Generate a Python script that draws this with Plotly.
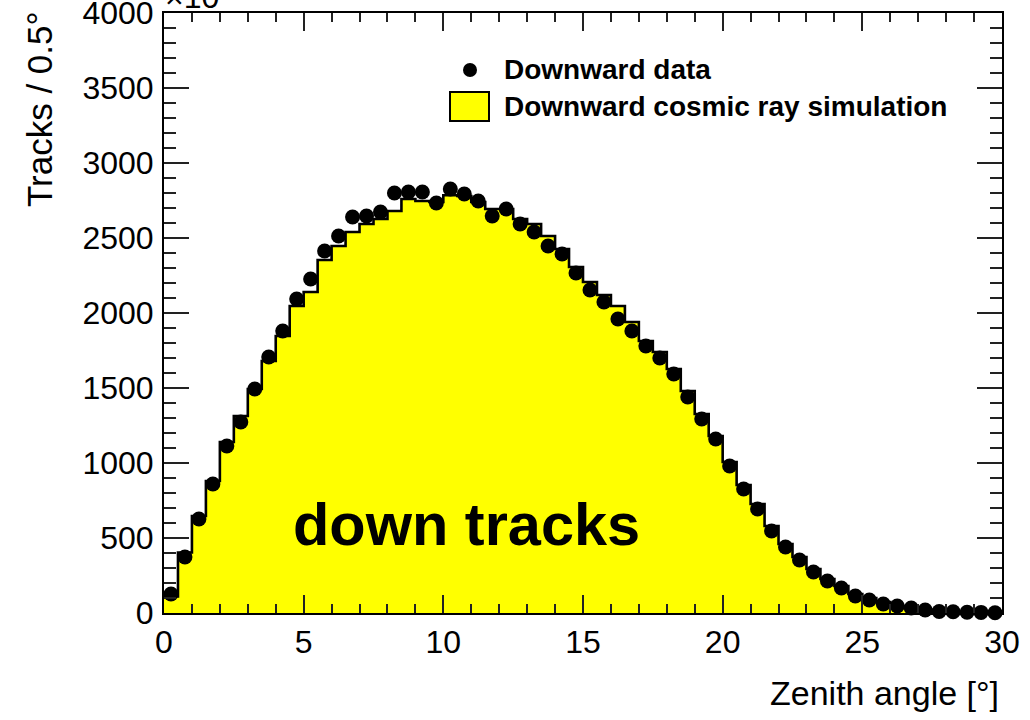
import plotly.graph_objects as go

# ---- data ----
bin_width = 0.5
n_bins = 60
bin_edges = [i * bin_width for i in range(n_bins + 1)]
bin_centers = [(bin_edges[i] + bin_edges[i + 1]) / 2 for i in range(n_bins)]

data_counts = [127, 373, 627, 860, 1113, 1273, 1493, 1707, 1880, 2093,
               2227, 2413, 2513, 2640, 2647, 2673, 2800, 2807, 2807, 2733,
               2827, 2793, 2747, 2647, 2693, 2593, 2540, 2447, 2393, 2267,
               2153, 2073, 1960, 1880, 1780, 1700, 1593, 1440, 1293, 1160,
               980, 827, 693, 547, 440, 353, 273, 213, 167, 113,
               87, 60, 47, 33, 20, 10, 8, 5, 4, 2]

mc_counts = [110, 403, 647, 880, 1140, 1313, 1493, 1680, 1847, 2047,
             2140, 2353, 2447, 2540, 2593, 2627, 2680, 2760, 2747, 2740,
             2785, 2780, 2740, 2693, 2693, 2627, 2593, 2513, 2427, 2307,
             2207, 2120, 2047, 1940, 1813, 1740, 1627, 1480, 1327, 1180,
             1007, 853, 727, 580, 460, 373, 293, 227, 180, 127,
             100, 73, 47, 33, 22, 15, 10, 7, 5, 3]

y_ticks = [0, 500, 1000, 1500, 2000, 2500, 3000, 3500, 4000]
x_ticks = [0, 5, 10, 15, 20, 25, 30]

legend_labels = ["Downward data", "Downward cosmic ray simulation"]
x_title = "Zenith angle [°]"
y_title = "Tracks / 0.5°"
label_text = "down tracks"

FONT = "Liberation Sans, Arial, Helvetica, sans-serif"

fig = go.Figure()

# simulation histogram (step outline, filled)
fig.add_trace(go.Scatter(
    x=bin_edges,
    y=mc_counts + [mc_counts[-1]],
    mode="lines",
    line=dict(shape="hv", color="black", width=2.6),
    fill="tozeroy",
    fillcolor="#ffff00",
    showlegend=False,
    hoverinfo="skip",
))

# data points
fig.add_trace(go.Scatter(
    x=bin_centers,
    y=data_counts,
    mode="markers",
    marker=dict(color="black", size=15, line=dict(width=0)),
    cliponaxis=False,
    showlegend=False,
))

# plot-area geometry (px) for paper-coordinate placement of text
L, R, T, B = 164, 1002, 13, 613
W, H = R - L, B - T


def px(xp):
    return (xp - L) / W


def py(yp):
    return (B - yp) / H


annotations = [
    dict(text=label_text, x=px(291), y=py(524), xref="paper", yref="paper",
         xanchor="left", yanchor="middle", showarrow=False,
         font=dict(family=FONT, size=59.5, color="black", weight="bold")),
    dict(text=legend_labels[0], x=px(502), y=py(70), xref="paper", yref="paper",
         xanchor="left", yanchor="middle", showarrow=False,
         font=dict(family=FONT, size=28, color="black", weight="bold")),
    dict(text=legend_labels[1], x=px(502), y=py(106), xref="paper", yref="paper",
         xanchor="left", yanchor="middle", showarrow=False,
         font=dict(family=FONT, size=28, color="black", weight="bold")),
    dict(text=x_title, x=px(1001), y=py(693), xref="paper", yref="paper",
         xanchor="right", yanchor="middle", showarrow=False,
         font=dict(family=FONT, size=34, color="black")),
    dict(text=y_title, x=px(39), y=py(9), xref="paper", yref="paper",
         xanchor="center", yanchor="top", textangle=-90, showarrow=False,
         font=dict(family=FONT, size=35, color="black")),
    dict(text="×10<sup>3</sup>", x=px(163), y=py(17), xref="paper", yref="paper",
         xanchor="left", yanchor="bottom", showarrow=False,
         font=dict(family=FONT, size=32, color="black")),
]

shapes = [
    dict(type="circle", xref="paper", yref="paper",
         x0=px(463), x1=px(477), y0=py(63), y1=py(77),
         fillcolor="black", line=dict(width=0)),
    dict(type="rect", xref="paper", yref="paper",
         x0=px(450), x1=px(489), y0=py(92), y1=py(121),
         fillcolor="#ffff00", line=dict(color="black", width=2)),
]

fig.update_layout(
    width=1030, height=720,
    margin=dict(l=L, r=1030 - R, t=T, b=720 - B, pad=0, autoexpand=False),
    paper_bgcolor="white", plot_bgcolor="white",
    font=dict(family=FONT, size=32, color="black"),
    annotations=annotations,
    shapes=shapes,
    showlegend=False,
)

fig.update_xaxes(
    range=[0, 30], tickvals=x_ticks, ticktext=[str(v) for v in x_ticks],
    ticks="inside", ticklen=18, tickwidth=1.5, tickcolor="#222",
    minor=dict(dtick=1, ticks="inside", ticklen=9, tickwidth=1.5, tickcolor="#222"),
    showline=True, linecolor="black", linewidth=2, mirror="ticks",
    showgrid=False, zeroline=False, ticklabeloverflow="allow", automargin=False,
    tickfont=dict(family=FONT, size=32, color="black"),
)
fig.update_yaxes(
    range=[0, 4000], tickvals=y_ticks, ticktext=[str(v) for v in y_ticks],
    ticks="inside", ticklen=25, tickwidth=1.5, tickcolor="#222",
    minor=dict(dtick=100, ticks="inside", ticklen=12, tickwidth=1.5, tickcolor="#222"),
    showline=True, linecolor="black", linewidth=2, mirror="ticks",
    showgrid=False, zeroline=False, ticklabeloverflow="allow", automargin=False,
    ticklabelstandoff=2,
    tickfont=dict(family=FONT, size=32, color="black"),
)

fig.write_html("out.html")
